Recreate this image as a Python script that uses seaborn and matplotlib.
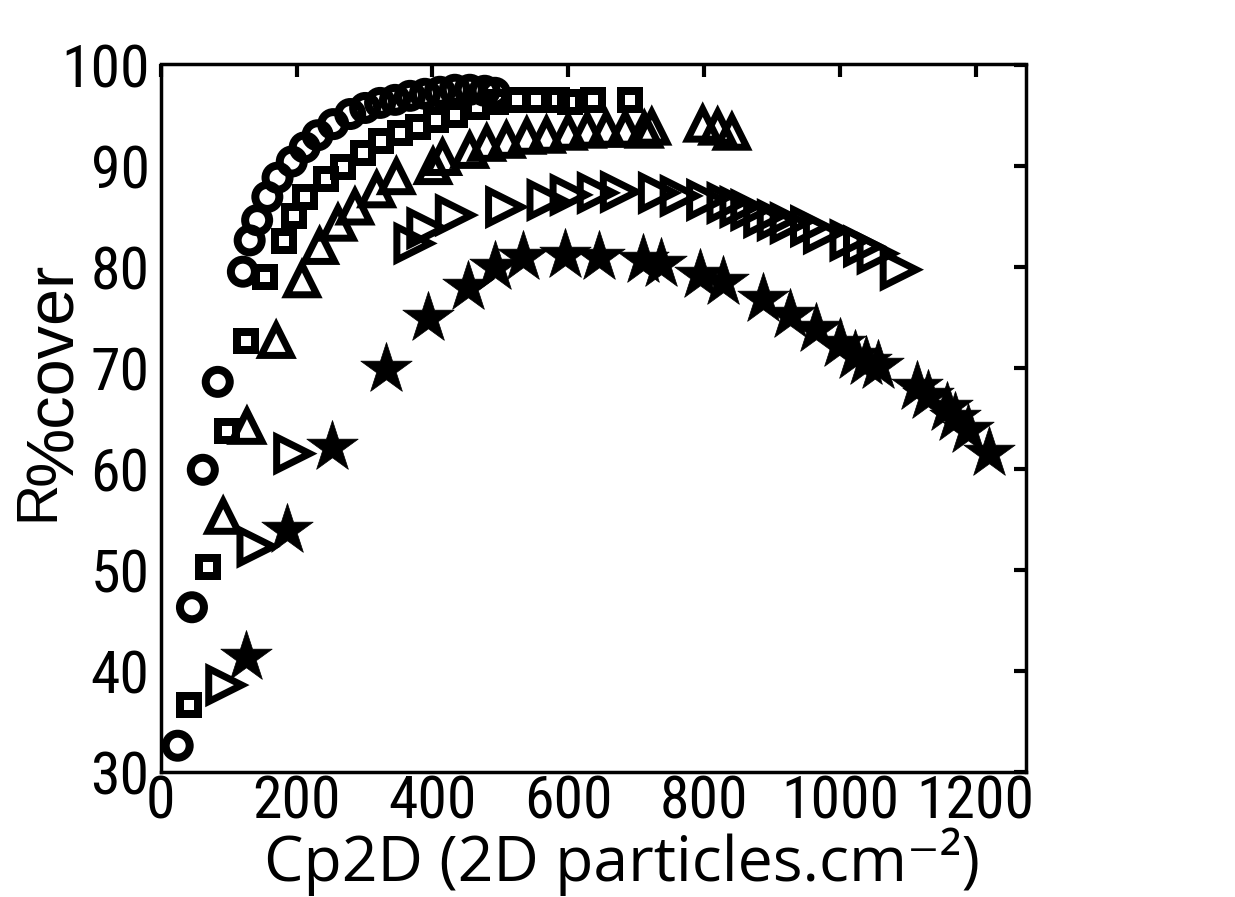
import numpy as np
import pandas as pd
import matplotlib
matplotlib.use("Agg")
import matplotlib.pyplot as plt
from matplotlib import font_manager as fm
import seaborn as sns

# ---------------- data ----------------
circ_x = [25, 46, 62, 84, 121, 131, 142, 157, 172, 193, 212, 231, 254, 279, 301,
          323, 345, 367, 389, 411, 433, 455, 477, 492]
circ_y = [32.6, 46.3, 59.9, 68.6, 79.5, 82.6, 84.6, 86.9, 88.8, 90.4, 91.8, 93.0,
          94.1, 95.1, 95.7, 96.2, 96.5, 96.9, 97.1, 97.3, 97.5, 97.5, 97.4, 97.2]

sq_x = [41, 69, 97, 126, 154, 181, 196, 212, 243, 269, 298, 325, 352, 379, 406,
        433, 465, 494, 524, 553, 583, 602, 637, 691]
sq_y = [36.6, 50.3, 63.7, 72.6, 79.0, 82.5, 85.0, 86.9, 88.7, 89.9, 91.2, 92.4,
        93.2, 93.8, 94.5, 95.0, 95.8, 96.3, 96.5, 96.5, 96.5, 96.3, 96.5, 96.5]

tri_x = [92, 127, 170, 208, 234, 261, 286, 318, 347, 401, 415, 455, 480, 509, 539,
         568, 600, 628, 656, 684, 712, 723, 798, 820, 841]
tri_y = [55.3, 64.2, 72.7, 78.7, 82.0, 84.3, 85.9, 87.6, 88.9, 89.9, 90.8, 91.5,
         92.2, 92.5, 92.9, 93.0, 93.3, 93.5, 93.6, 93.6, 93.5, 93.8, 94.1, 93.8, 93.3]

rtri_x = [95, 141, 195, 372, 391, 433, 507, 568, 602, 642, 676, 732, 764, 803, 833,
          852, 868, 887, 907, 926, 956, 975, 1014, 1034, 1054, 1088]
rtri_y = [38.6, 52.3, 61.5, 82.3, 83.8, 85.1, 85.9, 86.6, 87.1, 87.3, 87.4, 87.3,
          87.0, 86.6, 86.3, 85.9, 85.6, 84.9, 84.6, 84.3, 84.0, 83.3, 82.6, 82.0,
          81.3, 79.7]

star_x = [125, 186, 252, 331, 394, 453, 492, 534, 595, 645, 710, 737, 794, 828, 887,
          926, 965, 1000, 1022, 1039, 1056, 1113, 1130, 1157, 1169, 1189, 1220]
star_y = [41.4, 53.9, 62.2, 69.9, 74.9, 78.0, 80.0, 81.0, 81.2, 81.0, 80.7, 80.3,
          79.2, 78.5, 76.8, 75.2, 73.8, 72.3, 71.2, 70.6, 70.2, 68.1, 67.2, 66.0,
          65.0, 63.8, 61.6]

x_ticks = [0, 200, 400, 600, 800, 1000, 1200]
y_ticks = [30, 40, 50, 60, 70, 80, 90, 100]
x_label = "Cp2D (2D particles.cm\u207b\u00b2)"

# ---------------- style ----------------
sns.set_theme(style="white")
plt.rcParams["font.family"] = ["Liberation Sans", "DejaVu Sans"]
plt.rcParams["text.color"] = "black"

# pick a narrow sans font for tick labels if one is installed
def find_narrow():
    prefs = ["Liberation Sans Narrow", "Arial Narrow", "Roboto Condensed",
             "DejaVu Sans Condensed", "Noto Sans Condensed", "Open Sans Condensed"]
    fonts = fm.fontManager.ttflist
    for p in prefs:
        for f in fonts:
            if f.name == p and f.style == "normal" and f.weight in (400, "normal", "regular"):
                return fm.FontProperties(fname=f.fname)
    for f in fonts:
        st = str(f.stretch)
        if (st in ("condensed", "semi-condensed") or "Narrow" in f.name or "Condensed" in f.name) \
                and f.style == "normal" and f.weight in (400, "normal", "regular") \
                and "Mono" not in f.name and "Serif" not in f.name and "CJK" not in f.name:
            return fm.FontProperties(fname=f.fname)
    return None

narrow = find_narrow()
if narrow is not None:
    tick_fp = narrow.copy()
    tick_fp.set_size(43)
else:
    tick_fp = fm.FontProperties(family=["Liberation Sans", "DejaVu Sans"], size=36)

W, H = 1235, 897
fig = plt.figure(figsize=(W / 100, H / 100), dpi=100)
L, R, T, B = 160.7, 1026, 64.5, 772
ax = fig.add_axes([L / W, 1 - B / H, (R - L) / W, (B - T) / H])

pt = 72 / 100  # px -> pt

def open_series(x, y, marker, ms_px, lw_px):
    df = pd.DataFrame({"x": x, "y": y})
    sns.scatterplot(data=df, x="x", y="y", ax=ax, marker=marker,
                    s=(ms_px * pt) ** 2, facecolor="none", edgecolor="black",
                    linewidth=lw_px * pt, joinstyle="miter", zorder=3)

open_series(circ_x, circ_y, "o", 24, 8)
open_series(sq_x, sq_y, "s", 18, 8)
open_series(tri_x, tri_y, "^", 30, 7)
open_series(rtri_x, rtri_y, ">", 33, 7)

sdf = pd.DataFrame({"x": star_x, "y": star_y})
sns.scatterplot(data=sdf, x="x", y="y", ax=ax, marker="*", s=(54 * pt) ** 2,
                color="black", edgecolor="black", linewidth=0.5, zorder=3)

ax.set_xlim(0, 1274)
ax.set_ylim(30, 100)
ax.set_xticks(x_ticks)
ax.set_yticks(y_ticks)
ax.set_xticklabels([str(v) for v in x_ticks], fontproperties=tick_fp)
ax.set_yticklabels([str(v) for v in y_ticks], fontproperties=tick_fp)
ax.set_xlabel("")
ax.set_ylabel("")
ax.tick_params(direction="in", length=9, width=3, top=True, right=True,
               colors="black", pad=1)
ax.tick_params(axis="y", pad=8)
for s in ax.spines.values():
    s.set_linewidth(2.5)
    s.set_color("black")
ax.grid(False)

# y label: "R" with "%cover" as a same-size subscript
fig.text(53 / W, 1 - 521 / H, "R", rotation=90, rotation_mode="anchor",
         ha="left", va="baseline", fontsize=41, color="black",
         family=["Liberation Sans", "DejaVu Sans"])
fig.text(72 / W, 1 - 485 / H, "%cover", rotation=90, rotation_mode="anchor",
         ha="left", va="baseline", fontsize=48, color="black",
         family=["Liberation Sans", "DejaVu Sans"])

# x label
fig.text(264 / W, 1 - 881 / H, x_label, ha="left", va="baseline", color="black",
         fontsize=45, family=["Open Sans", "DejaVu Sans"])

fig.savefig("out.png", dpi=100, facecolor="white")
